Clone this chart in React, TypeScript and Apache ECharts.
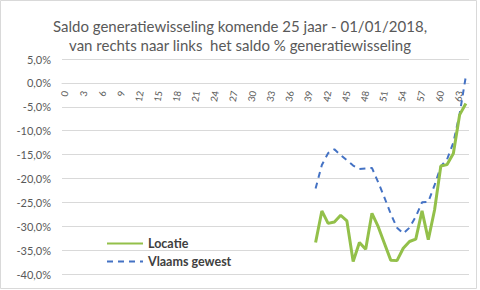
import React, { useEffect, useRef } from "react";
import * as echarts from "echarts";

const categories: string[] = Array.from({ length: 65 }, (_, i) => String(i));
const dataStart = 40;
const locatieValues: number[] = [
  -33.4, -26.8, -29.4, -29.1, -27.7, -28.9, -37.4, -33.4, -34.8, -27.3,
  -30.1, -33.6, -37.1, -37.2, -34.6, -33.2, -32.7, -26.8, -32.8, -26.6,
  -17.4, -17.1, -14.8, -6.7, -4.3,
];
const vlaamsValues: number[] = [
  -22.1, -17.2, -14.7, -13.9, -15.1, -16.2, -17.3, -18.0, -17.9, -17.8,
  -20.8, -24.0, -27.4, -30.3, -31.5, -30.3, -28.0, -25.0, -24.9, -21.4,
  -17.5, -16.0, -12.5, -6.5, 1.4,
];
const yTicks = { min: -40, max: 5, interval: 5 };

const pad = (vals: number[]) =>
  categories.map((_, i) => (i >= dataStart && i - dataStart < vals.length ? vals[i - dataStart] : null));

const FONT = "Lato";
const GRID = { left: 62, right: 11, top: 59, bottom: 16 };
const H = 290;
const gridHeight = H - GRID.top - GRID.bottom;
// distance of the zero line above the grid bottom
const zeroOffset = (gridHeight * (0 - yTicks.min)) / (yTicks.max - yTicks.min);

export default function App() {
  const ref = useRef<HTMLDivElement>(null);
  useEffect(() => {
    if (!ref.current) return;
    const chart = echarts.init(ref.current, undefined, { renderer: "svg" });
    chart.setOption({
      animation: false,
      backgroundColor: "#ffffff",
      textStyle: { fontFamily: FONT },
      title: {
        text: "Saldo generatiewisseling komende 25 jaar - 01/01/2018,\nvan rechts naar links  het saldo % generatiewisseling",
        left: "center",
        top: 11,
        textStyle: { fontFamily: FONT, fontSize: 15, fontWeight: "normal", color: "#595959", lineHeight: 19 },
      },
      grid: { ...GRID, containLabel: false },
      legend: {
        orient: "vertical",
        left: 101,
        top: 232,
        itemWidth: 36,
        itemHeight: 14,
        itemGap: 5,
        itemStyle: { opacity: 0, borderWidth: 0 },
        textStyle: { fontFamily: FONT, fontSize: 12.5, fontWeight: "bold", color: "#404040" },
        data: ["Locatie", "Vlaams gewest"],
      },
      xAxis: {
        type: "category",
        data: categories,
        boundaryGap: true,
        position: "bottom",
        offset: -zeroOffset,
        axisLine: { onZero: false, lineStyle: { color: "#D9D9D9", width: 1 } },
        axisTick: { show: false },
        axisLabel: { interval: 2, rotate: 80, margin: 8, color: "#595959", fontSize: 9.5, fontFamily: FONT },
        splitLine: { show: false },
      },
      yAxis: {
        type: "value",
        min: yTicks.min,
        max: yTicks.max,
        interval: yTicks.interval,
        axisLine: { show: false },
        axisTick: { show: false },
        axisLabel: {
          margin: 11,
          color: "#595959",
          fontSize: 11,
          fontFamily: FONT,
          formatter: (v: number) => v.toFixed(1).replace(".", ",") + "%",
        },
        splitLine: { lineStyle: { color: "#D9D9D9", width: 1 } },
      },
      graphic: [
        {
          type: "rect",
          shape: { x: 0.5, y: 0.5, width: 476, height: 288 },
          style: { fill: "none", stroke: "#D9D9D9", lineWidth: 1 },
          silent: true,
          z: -1,
        },
      ],
      series: [
        {
          name: "Locatie",
          type: "line",
          data: pad(locatieValues),
          symbol: "none",
          lineStyle: { color: "#93C04A", width: 3 },
          itemStyle: { color: "#93C04A" },
          z: 3,
        },
        {
          name: "Vlaams gewest",
          type: "line",
          data: pad(vlaamsValues),
          symbol: "none",
          lineStyle: { color: "#4472C4", width: 2, type: [6, 5] },
          itemStyle: { color: "#4472C4" },
          z: 2,
        },
      ],
    });
    return () => chart.dispose();
  }, []);
  return (
    <div
      ref={ref}
      style={{ position: "absolute", left: 0, top: 0, width: 480, height: 290, background: "#fff" }}
    />
  );
}
